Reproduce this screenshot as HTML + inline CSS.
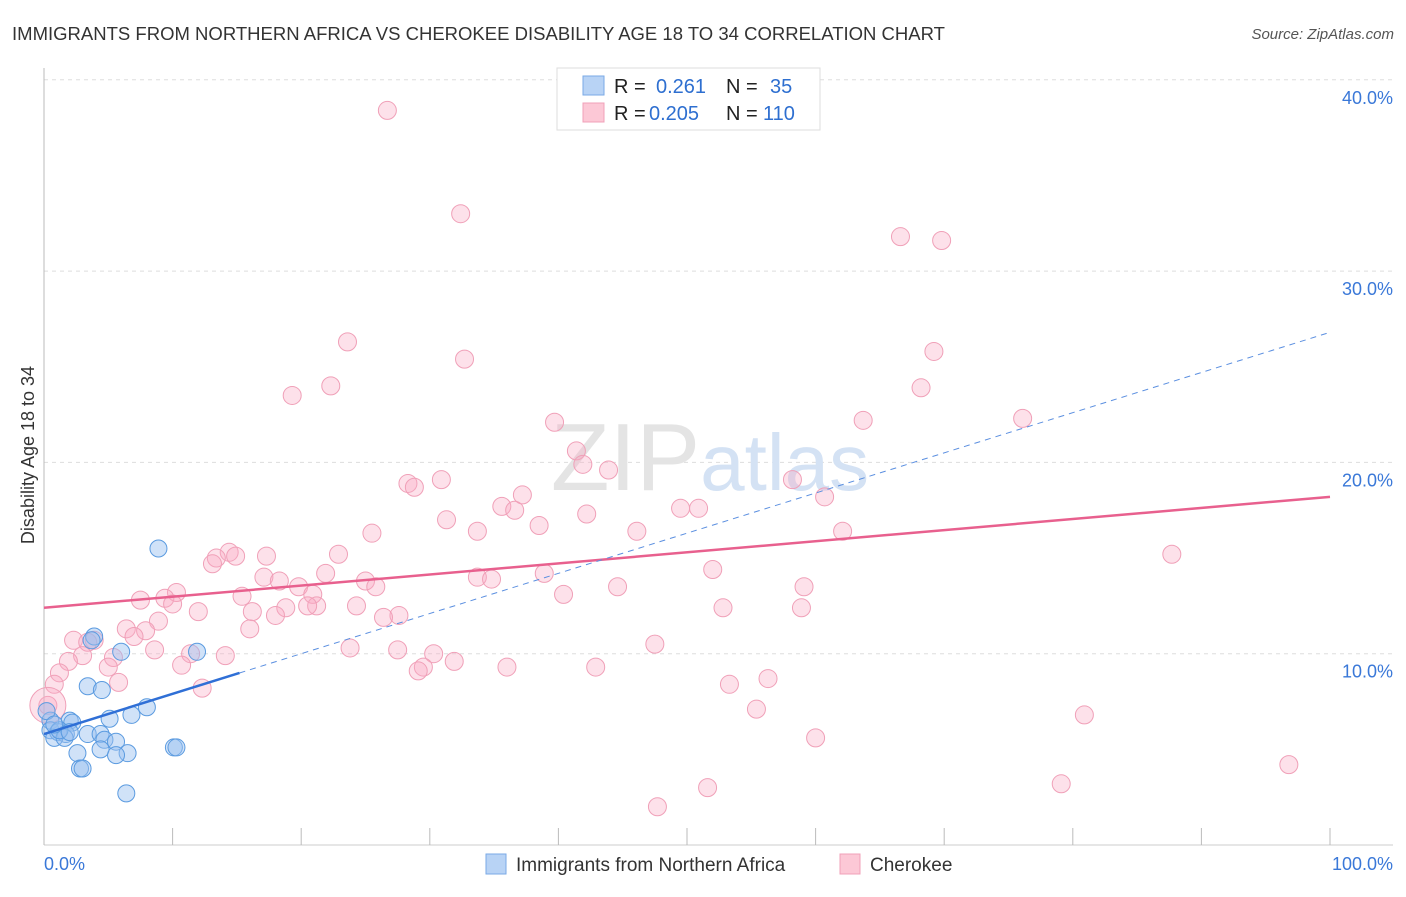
<!DOCTYPE html>
<html><head><meta charset="utf-8"><style>
body{margin:0;background:#fff;font-family:"Liberation Sans",sans-serif}
svg text{font-family:"Liberation Sans",sans-serif}
</style></head><body>
<svg width="1406" height="892" viewBox="0 0 1406 892">
<text x="12" y="40" font-size="18" fill="#333" textLength="933" lengthAdjust="spacingAndGlyphs">IMMIGRANTS FROM NORTHERN AFRICA VS CHEROKEE DISABILITY AGE 18 TO 34 CORRELATION CHART</text>
<text x="1394" y="39" font-size="15" fill="#555" font-style="italic" text-anchor="end">Source: ZipAtlas.com</text>
<g id="grid"></g>
<text x="710" y="490" font-size="96" fill="#e4e4e4" text-anchor="middle" font-family="Liberation Serif">ZIP<tspan fill="#d4e2f4" font-family="Liberation Sans" font-size="80">atlas</tspan></text>
<text transform="translate(34,455) rotate(-90)" font-size="18" fill="#333" text-anchor="middle">Disability Age 18 to 34</text>
<g id="pts"></g>
<g id="lines"></g>
<g>
<rect x="557" y="68" width="263" height="62" fill="#fff" stroke="#ddd"/>
<rect x="583" y="76" width="21" height="19" fill="#b8d3f5" stroke="#7aaae6"/>
<rect x="583" y="103" width="21" height="19" fill="#fcc8d6" stroke="#f0a0b8"/>
<text x="614" y="93" font-size="20" fill="#222">R = <tspan x="656" fill="#2e6fd0">0.261</tspan><tspan x="726" fill="#222">N = </tspan><tspan x="770" fill="#2e6fd0">35</tspan></text>
<text x="614" y="120" font-size="20" fill="#222">R = <tspan x="649" fill="#2e6fd0">0.205</tspan><tspan x="726" fill="#222">N = </tspan><tspan x="763" fill="#2e6fd0">110</tspan></text>
</g>
<g>
<rect x="486" y="854" width="20" height="20" fill="#b8d3f5" stroke="#7aaae6"/>
<text x="516" y="871" font-size="19" fill="#333">Immigrants from Northern Africa</text>
<rect x="840" y="854" width="20" height="20" fill="#fcc8d6" stroke="#f0a0b8"/>
<text x="870" y="871" font-size="19" fill="#333">Cherokee</text>
</g>
<text x="44" y="870" font-size="18" fill="#3a78d8">0.0%</text>
<text x="1393" y="870" font-size="18" fill="#3a78d8" text-anchor="end">100.0%</text>
</svg>
<script>
const yTicks=[10,20,30,40];
const xTicks=[0,10,20,30,40,50,60,70,80,90,100];
const blueX=[8.9,3.9,11.9,6.0,3.4,4.5,8.0,6.8,5.1,2.0,0.5,2.2,0.5,1.1,1.7,3.4,4.4,0.8,1.6,4.7,5.6,2.6,4.4,6.5,5.6,10.1,10.3,2.8,3.0,6.4,0.2,1.2,2.0,3.7,0.8];
const blueY=[15.5,10.9,10.1,10.1,8.3,8.1,7.2,6.8,6.6,6.5,6.5,6.4,6.0,5.9,5.8,5.8,5.8,5.6,5.6,5.5,5.4,4.8,5.0,4.8,4.7,5.1,5.1,4.0,4.0,2.7,7.0,6.0,5.9,10.7,6.3];
const pinkX=[26.7,32.4,66.6,69.8,23.6,32.7,69.2,22.3,19.3,68.2,63.7,76.1,39.7,41.4,41.9,58.2,43.9,30.9,28.3,28.8,37.2,35.6,36.6,31.3,42.2,49.5,50.9,60.7,38.5,33.7,25.5,46.1,62.1,87.7,14.4,13.4,14.9,17.3,22.9,13.1,52.0,17.1,21.9,38.9,33.7,34.8,25.0,18.3,25.8,19.8,44.6,59.1,20.9,10.3,9.4,15.4,7.5,40.4,18.8,21.2,20.5,10.0,12.0,24.3,16.2,52.8,58.9,27.6,26.4,18.0,8.9,6.4,16.0,7.9,2.3,7.0,3.9,3.4,8.6,23.8,27.5,11.4,14.1,47.5,3.0,1.9,5.4,30.3,5.0,10.7,31.9,36.0,42.9,29.5,29.1,1.2,5.8,56.3,53.3,0.8,12.3,55.4,80.9,60.0,51.6,79.1,47.7,96.8,0.3];
const pinkY=[38.4,33.0,31.8,31.6,26.3,25.4,25.8,24.0,23.5,23.9,22.2,22.3,22.1,20.6,19.9,19.1,19.6,19.1,18.9,18.7,18.3,17.7,17.5,17.0,17.3,17.6,17.6,18.2,16.7,16.4,16.3,16.4,16.4,15.2,15.3,15.0,15.1,15.1,15.2,14.7,14.4,14.0,14.2,14.2,14.0,13.9,13.8,13.8,13.5,13.5,13.5,13.5,13.1,13.2,12.9,13.0,12.8,13.1,12.4,12.5,12.5,12.6,12.2,12.5,12.2,12.4,12.4,12.0,11.9,12.0,11.7,11.3,11.3,11.2,10.7,10.9,10.7,10.6,10.2,10.3,10.2,10.0,9.9,10.5,9.9,9.6,9.8,10.0,9.3,9.4,9.6,9.3,9.3,9.3,9.1,9.0,8.5,8.7,8.4,8.4,8.2,7.1,6.8,5.6,3.0,3.2,2.0,4.2,7.3];
const blueTrend=[5.8,0.21];
const pinkTrend=[12.4,0.058];
const NS="http://www.w3.org/2000/svg";
const X=v=>44+v*12.86, Y=v=>845-v*19.13;
function mk(t,a,p){const e=document.createElementNS(NS,t);for(const k in a)e.setAttribute(k,a[k]);p.appendChild(e);return e;}
const grid=document.getElementById('grid');
yTicks.forEach(t=>{
 const l=mk('line',{x1:44,x2:1393,y1:Y(t),y2:Y(t),stroke:'#ddd','stroke-dasharray':'4,4'},grid);
 
 
 const tx=mk('text',{x:1393,y:Y(t)+24,'font-size':18,fill:'#3a78d8','text-anchor':'end'},grid);
 tx.textContent=t.toFixed(1)+'%';
 
 
});
const ax=mk('line',{x1:44,x2:44,y1:68,y2:845,stroke:'#bbb'},grid);


const bx=mk('line',{x1:44,x2:1393,y1:845,y2:845,stroke:'#ccc'},grid);


xTicks.forEach(t=>{
 const l=mk('line',{x1:X(t),x2:X(t),y1:828,y2:845,stroke:'#bbb'},grid);
 
 
});
const pts=document.getElementById('pts');
pinkX.forEach((x,i)=>{
 const c=mk('circle',{cx:X(x),cy:Y(pinkY[i]),r:9,fill:'rgba(248,170,195,0.35)',stroke:'#f0a0b8','stroke-width':1},pts);
 
 
});
const big=mk('circle',{cx:X(0.3),cy:Y(7.3),r:18,fill:'rgba(248,170,195,0.35)',stroke:'#f0a0b8'},pts);


blueX.forEach((x,i)=>{
 const c=mk('circle',{cx:X(x),cy:Y(blueY[i]),r:8.5,fill:'rgba(150,190,240,0.45)',stroke:'#5b9be0','stroke-width':1},pts);
 
 
});
const ln=document.getElementById('lines');
let l1=mk('line',{x1:X(0),y1:Y(pinkTrend[0]),x2:X(100),y2:Y(pinkTrend[0]+100*pinkTrend[1]),stroke:'#e8608e','stroke-width':2.5},ln);


let l2=mk('line',{x1:X(0),y1:Y(blueTrend[0]),x2:X(15.2),y2:Y(blueTrend[0]+15.2*blueTrend[1]),stroke:'#2f6fd6','stroke-width':2.5},ln);


let l3=mk('line',{x1:X(15.2),y1:Y(blueTrend[0]+15.2*blueTrend[1]),x2:X(100),y2:Y(blueTrend[0]+100*blueTrend[1]),stroke:'#5b8fe0','stroke-width':1,'stroke-dasharray':'6,5'},ln);


</script>
</body></html>
